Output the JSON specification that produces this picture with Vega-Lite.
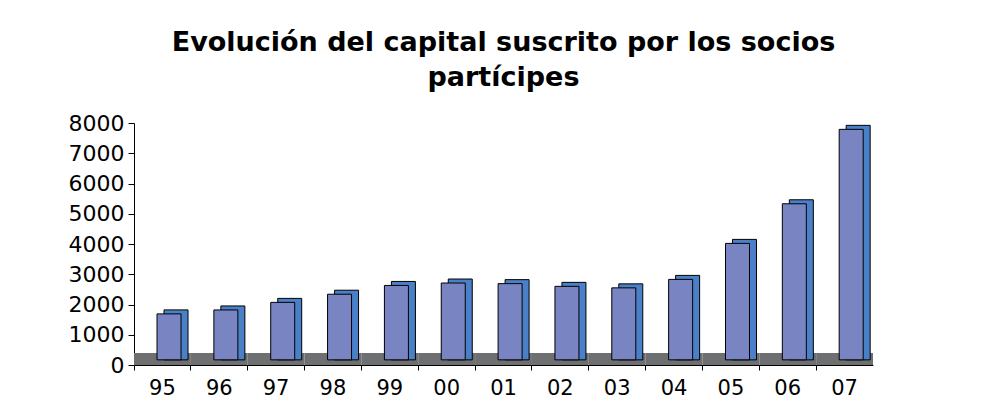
{
  "$schema": "https://vega.github.io/schema/vega-lite/v6.json",
  "width": 739,
  "height": 242,
  "autosize": {"type": "none"},
  "padding": {"left": 134, "top": 123, "right": 127, "bottom": 38},
  "background": "white",
  "title": {
    "text": ["Evolución del capital suscrito por los socios", "partícipes"],
    "font": "DejaVu Sans",
    "fontSize": 27,
    "fontWeight": "bold",
    "color": "black",
    "lineHeight": 35,
    "anchor": "middle",
    "offset": 20
  },
  "config": {
    "view": {"stroke": null},
    "font": "DejaVu Sans"
  },
  "resolve": {"axis": {"y": "independent"}},
  "data": {
    "values": [
      {"year": "95", "value": 1690},
      {"year": "96", "value": 1820},
      {"year": "97", "value": 2070},
      {"year": "98", "value": 2340},
      {"year": "99", "value": 2630},
      {"year": "00", "value": 2710},
      {"year": "01", "value": 2690},
      {"year": "02", "value": 2600},
      {"year": "03", "value": 2550},
      {"year": "04", "value": 2830},
      {"year": "05", "value": 4020},
      {"year": "06", "value": 5330},
      {"year": "07", "value": 7790}
    ]
  },
  "encoding": {
    "x": {
      "field": "year",
      "type": "nominal",
      "sort": null,
      "scale": {"paddingInner": 0, "paddingOuter": 0},
      "axis": {
        "title": null,
        "labelAngle": 0,
        "labelFontSize": 21,
        "labelColor": "black",
        "labelFont": "DejaVu Sans",
        "labelPadding": 7,
        "tickSize": 5,
        "tickColor": "black",
        "domainColor": "black",
        "bandPosition": 0
      }
    }
  },
  "layer": [
    {
      "mark": {"type": "bar", "color": "#6E6F71", "width": {"band": 1}},
      "encoding": {
        "y": {
          "datum": 0,
          "type": "quantitative",
          "scale": {"domain": [0, 8000], "nice": false},
          "axis": {
            "title": null,
            "values": [0, 1000, 2000, 3000, 4000, 5000, 6000, 7000, 8000],
            "format": "d",
            "labelOverlap": false,
            "labelFontSize": 22,
            "labelColor": "black",
            "labelFont": "DejaVu Sans",
            "labelPadding": 4,
            "tickSize": 6,
            "tickColor": "black",
            "domainColor": "black",
            "grid": false
          }
        },
        "y2": {"datum": 400}
      }
    },
    {
      "mark": {"type": "bar", "color": "#4A80C8", "stroke": "black", "strokeWidth": 1, "width": 24, "xOffset": 13.6, "yOffset": -4},
      "encoding": {
        "y": {"field": "value", "type": "quantitative", "axis": null},
        "y2": {"datum": 170}
      }
    },
    {
      "mark": {"type": "bar", "color": "#7885C2", "stroke": "black", "strokeWidth": 1, "width": 24, "xOffset": 6.6},
      "encoding": {
        "y": {"field": "value", "type": "quantitative", "axis": null},
        "y2": {"datum": 170}
      }
    }
  ]
}
